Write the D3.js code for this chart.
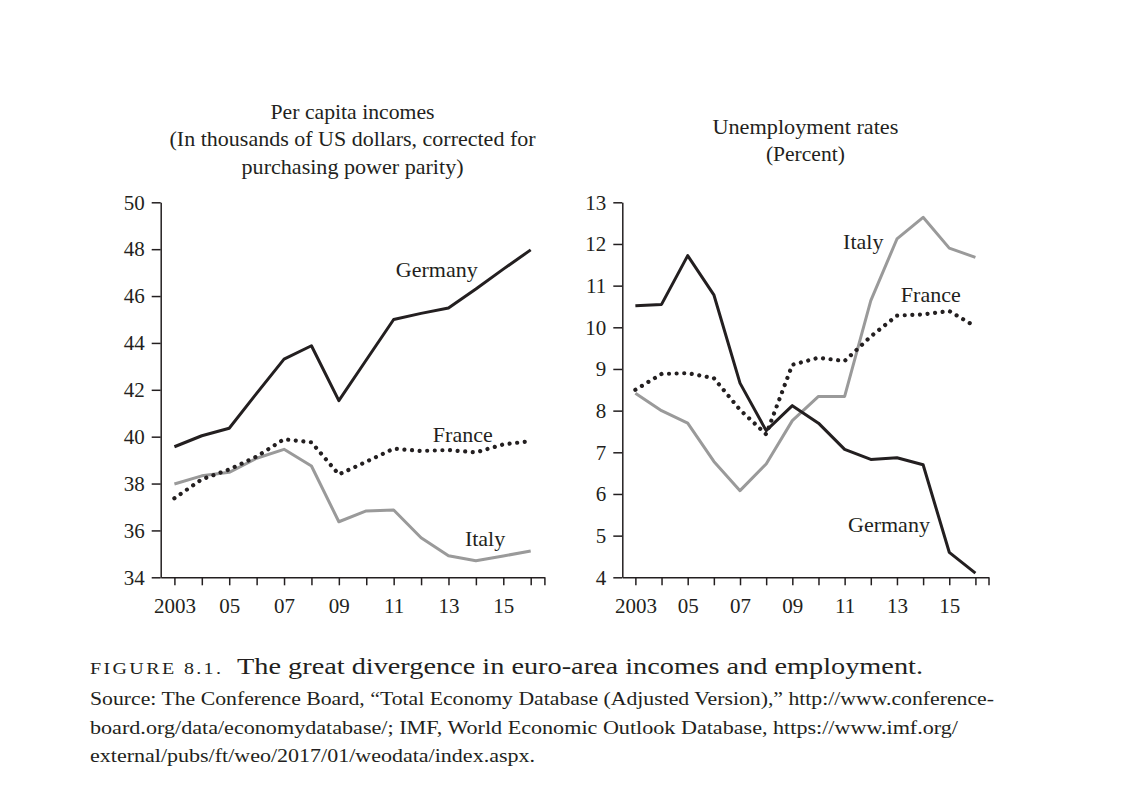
<!DOCTYPE html>
<html>
<head>
<meta charset="utf-8">
<script src="https://cdnjs.cloudflare.com/ajax/libs/d3/7.8.5/d3.min.js"></script>
<style>
  body { margin: 0; background: #fff; }
  svg text { font-family: "Liberation Serif", "DejaVu Serif", serif; fill: #231f20; }
  .tick text { font-size: 21px; }
  .axis path, .axis line { stroke: #231f20; stroke-width: 1.5; }
</style>
</head>
<body>
<svg id="chart" width="1127" height="806"></svg>
<script>
// years shared by both panels
const years = [2003, 2004, 2005, 2006, 2007, 2008, 2009, 2010, 2011, 2012, 2013, 2014, 2015, 2016]

// per capita incomes, thousands of US$ PPP
const incGermany = [39.57, 40.04, 40.36, 41.85, 43.31, 43.88, 41.54, 43.27, 45.0, 45.26, 45.49, 46.3, 47.15, 47.97]
const incFrance = [37.37, 38.18, 38.6, 39.15, 39.89, 39.76, 38.39, 38.93, 39.49, 39.39, 39.43, 39.33, 39.67, 39.81]
const incItaly = [37.98, 38.33, 38.48, 39.08, 39.46, 38.75, 36.37, 36.83, 36.87, 35.69, 34.92, 34.71, 34.91, 35.12]

// unemployment rates, percent
const unGermany = [10.52, 10.55, 11.72, 10.78, 8.66, 7.52, 8.12, 7.7, 7.07, 6.83, 6.87, 6.7, 4.6, 4.1]
const unFrance = [8.5, 8.88, 8.9, 8.78, 8.02, 7.43, 9.1, 9.27, 9.19, 9.78, 10.28, 10.31, 10.39, 10.02]
const unItaly = [8.42, 8.0, 7.7, 6.78, 6.08, 6.72, 7.76, 8.34, 8.34, 10.64, 12.12, 12.64, 11.9, 11.68]

const incTicks = [34, 36, 38, 40, 42, 44, 46, 48, 50]
const unTicks = [4, 5, 6, 7, 8, 9, 10, 11, 12, 13]

// label anchors in data units (year, value)
const incLabels = [["Germany", 2011.08, 46.83], ["France", 2012.43, 39.79], ["Italy", 2013.6, 35.35]]
const unLabels = [["Italy", 2010.94, 11.87], ["France", 2013.15, 10.61], ["Germany", 2011.13, 5.09]]

const svg = d3.select("#chart")

const styles = {
    Germany: { stroke: "#231f20", width: 3, dash: null },
    Italy: { stroke: "#9a9a9a", width: 3, dash: null },
    France: { stroke: "#231f20", width: 4.2, dash: "0.01 7.6" }
}

function yearLabel(d) {
    if (d === 2003) return "2003"
    if (d % 2 === 1 && Number.isInteger(d)) return String(d).slice(2)
    return ""
}

function panel(opts) {
    const x = d3.scaleLinear().domain([2002.5, 2016.5]).range(opts.xr)
    const y = d3.scaleLinear().domain(opts.yd).range([577.3, 202.3])
    const g = svg.append("g")

    g.append("g")
        .attr("class", "axis")
        .attr("transform", "translate(" + opts.xr[0] + ",0)")
        .call(d3.axisLeft(y).tickValues(opts.ticks).tickSize(9).tickPadding(7).tickSizeOuter(0))

    g.append("g")
        .attr("class", "axis")
        .attr("transform", "translate(0,577.3)")
        .call(d3.axisBottom(x).tickValues(years.concat([2016.5])).tickFormat(yearLabel)
            .tickSize(8).tickPadding(13).tickSizeOuter(0))

    const line = d3.line()
        .x((d, i) => x(years[i]))
        .y(d => y(d))

    opts.series.forEach(function (s) {
        const st = styles[s[0]]
        g.append("path")
            .datum(s[1])
            .attr("d", line)
            .attr("fill", "none")
            .attr("stroke", st.stroke)
            .attr("stroke-width", st.width)
            .attr("stroke-linejoin", "round")
            .attr("stroke-linecap", st.dash ? "round" : "butt")
            .attr("stroke-dasharray", st.dash)
    })

    opts.labels.forEach(function (l) {
        g.append("text")
            .text(l[0])
            .attr("x", x(l[1]))
            .attr("y", y(l[2]))
            .style("font-size", "22px")
    })

    const cx = (opts.xr[0] + opts.xr[1]) / 2
    opts.title.forEach(function (t, i) {
        g.append("text")
            .text(t[0])
            .attr("x", cx)
            .attr("y", opts.titleY + i * 27.5)
            .attr("textLength", t[1])
            .attr("lengthAdjust", "spacingAndGlyphs")
            .style("text-anchor", "middle")
            .style("font-size", "21px")
    })
}

panel({
    xr: [160.7, 544.4],
    yd: [34, 50],
    ticks: incTicks,
    series: [["Italy", incItaly], ["France", incFrance], ["Germany", incGermany]],
    labels: incLabels,
    title: [["Per capita incomes", 164], ["(In thousands of US dollars, corrected for", 366], ["purchasing power parity)", 222]],
    titleY: 118.5
})

panel({
    xr: [622.3, 988.5],
    yd: [4, 13],
    ticks: unTicks,
    series: [["Italy", unItaly], ["France", unFrance], ["Germany", unGermany]],
    labels: unLabels,
    title: [["Unemployment rates", 186], ["(Percent)", 79]],
    titleY: 133.5
})

// caption
const cap = svg.append("text")
    .attr("x", 90)
    .attr("y", 674)
    .attr("textLength", 833)
    .attr("lengthAdjust", "spacingAndGlyphs")
    .style("font-size", "24px")
cap.append("tspan").text("FIGURE 8.1.").style("font-size", "17px").style("letter-spacing", "2px")
cap.append("tspan").text("  The great divergence in euro-area incomes and employment.").attr("xml:space", "preserve")

const source = [
    ["Source: The Conference Board, \u201cTotal Economy Database (Adjusted Version),\u201d http://www.conference-", 904],
    ["board.org/data/economydatabase/; IMF, World Economic Outlook Database, https://www.imf.org/", 868],
    ["external/pubs/ft/weo/2017/01/weodata/index.aspx.", 445]
]
source.forEach(function (s, i) {
    svg.append("text")
        .text(s[0])
        .attr("x", 90)
        .attr("y", 705 + i * 28.5)
        .attr("textLength", s[1])
        .attr("lengthAdjust", "spacingAndGlyphs")
        .style("font-size", "19px")
})
</script>
</body>
</html>
